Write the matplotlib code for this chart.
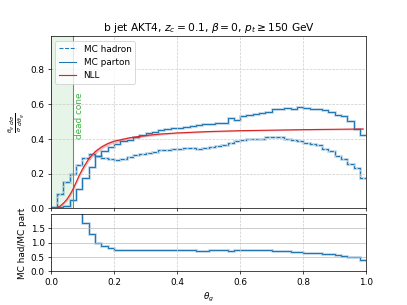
import numpy as np
import matplotlib
matplotlib.use("Agg")
import matplotlib.pyplot as plt

# 50 bins of width 0.02 in theta_g
edges = np.linspace(0.0, 1.0, 51)

mc_hadron = [
    0.008, 0.080, 0.150, 0.200, 0.250, 0.290, 0.310, 0.300, 0.290, 0.283,
    0.280, 0.285, 0.295, 0.305, 0.310, 0.318, 0.322, 0.333, 0.335, 0.340,
    0.342, 0.348, 0.345, 0.340, 0.350, 0.355, 0.358, 0.365, 0.375, 0.385,
    0.395, 0.402, 0.400, 0.402, 0.408, 0.410, 0.408, 0.400, 0.392, 0.386,
    0.377, 0.368, 0.362, 0.342, 0.328, 0.303, 0.284, 0.257, 0.232, 0.174,
]
mc_parton = [
    0.003, 0.008, 0.012, 0.050, 0.110, 0.172, 0.240, 0.300, 0.330, 0.355,
    0.370, 0.385, 0.395, 0.410, 0.425, 0.435, 0.440, 0.450, 0.455, 0.460,
    0.462, 0.468, 0.472, 0.480, 0.487, 0.488, 0.490, 0.492, 0.518, 0.510,
    0.530, 0.535, 0.542, 0.547, 0.554, 0.570, 0.572, 0.575, 0.570, 0.583,
    0.575, 0.570, 0.570, 0.568, 0.555, 0.540, 0.531, 0.502, 0.458, 0.425,
]

nll_x = [0.0, 0.01, 0.02, 0.03, 0.04, 0.05, 0.06, 0.07, 0.08, 0.09, 0.10,
         0.12, 0.14, 0.16, 0.18, 0.20, 0.25, 0.30, 0.35, 0.40, 0.50, 0.60,
         0.70, 0.80, 0.90, 0.99]
nll_y = [0.0, 0.0, 0.005, 0.014, 0.030, 0.050, 0.077, 0.110, 0.150, 0.190,
         0.225, 0.285, 0.325, 0.352, 0.372, 0.386, 0.406, 0.419, 0.428, 0.434,
         0.442, 0.447, 0.450, 0.453, 0.455, 0.457]
nll_err = [0.0, 0.0, 0.002, 0.004, 0.006, 0.008, 0.010, 0.012, 0.013, 0.014,
           0.014, 0.014, 0.013, 0.012, 0.011, 0.010, 0.008, 0.007, 0.006, 0.005,
           0.005, 0.004, 0.004, 0.004, 0.004, 0.004]

dead_cone = 0.07

had = np.array(mc_hadron)
par = np.array(mc_parton)
ratio = had / par

blue = "#1f77b4"
red = "#d62728"
green = "#3cb043"

fig, (ax, axr) = plt.subplots(2, 1, figsize=(6.4, 4.8), sharex=True,
                              gridspec_kw={"height_ratios": [3, 1], "hspace": 0.05})
fig.subplots_adjust(left=0.125, right=0.9, top=0.88, bottom=0.11)

# main panel
ax.axvspan(0, dead_cone, color=green, alpha=0.12, lw=0)
ax.axvline(dead_cone, color=green, lw=1.2)
ax.text(dead_cone + 0.008, 0.40, "dead cone", rotation=90, color=green,
        ha="left", va="bottom")

ax.stairs(had, edges, color=blue, lw=3, alpha=0.3, baseline=None)
ax.stairs(had, edges, color=blue, lw=1.2, ls="--", baseline=None, label="MC hadron")
ax.stairs(par, edges, color=blue, lw=3, alpha=0.3, baseline=None)
ax.stairs(par, edges, color=blue, lw=1.2, baseline=None, label="MC parton")

nx = np.array(nll_x)
ny = np.array(nll_y)
ne = np.array(nll_err)
ax.fill_between(nx, ny - ne, ny + ne, color=red, alpha=0.3, lw=0)
ax.plot(nx, ny, color=red, lw=1.3, label="NLL")

ax.set_xlim(0, 1)
ax.set_ylim(0, 0.99)
ax.set_yticks([0.0, 0.2, 0.4, 0.6, 0.8])
ax.grid(True, ls="--", color="#cccccc", lw=0.8)
ax.set_ylabel(r"$\frac{\theta_g}{\sigma}\frac{d\sigma}{d\theta_g}$")
ax.set_title(r"b jet AKT4, $z_c = 0.1$, $\beta = 0$, $p_t \geq 150$ GeV")
ax.legend(loc="upper left")
ax.tick_params(labelbottom=False)

# ratio panel
axr.stairs(ratio, edges, color=blue, lw=3, alpha=0.3, baseline=None)
axr.stairs(ratio, edges, color=blue, lw=1.2, baseline=None)
axr.set_ylim(0, 1.99)
axr.set_yticks([0.0, 0.5, 1.0, 1.5])
axr.grid(True, axis="x", ls="--", color="#cccccc", lw=0.8)
axr.grid(True, axis="y", ls="-", color="#bbbbbb", lw=0.8)
axr.set_xticks([0.0, 0.2, 0.4, 0.6, 0.8, 1.0])
axr.set_xlabel(r"$\theta_g$")
axr.set_ylabel("MC had/MC part")

fig.savefig("out.png", dpi=63.6)
